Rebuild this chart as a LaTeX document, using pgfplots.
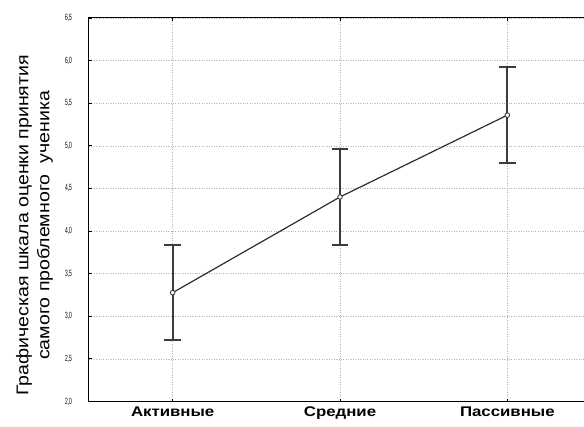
\documentclass[border=0pt]{standalone}
\usepackage{pgfplots}
\pgfplotsset{compat=1.18}
\usepackage{fontspec}
\setmainfont{Liberation Sans}
\newfontfamily\narrowfont{Liberation Sans}[FakeStretch=0.55]
\newfontfamily\wideboldfont{Liberation Sans}[FakeStretch=1.2, UprightFont=*-Bold]
\newfontfamily\labelfont{Liberation Sans}[FakeStretch=1.15]

\definecolor{linegray}{HTML}{2E2E2E}
\definecolor{bargray}{HTML}{3C3C3C}
\definecolor{gridgray}{HTML}{B4B4B4}

\begin{document}
\begin{tikzpicture}
% page frame: the plot runs past the right edge
\path[use as bounding box] (-89pt,-25pt) rectangle (495pt,401.5pt);
\begin{axis}[
  at={(0,0)}, anchor=south west,
  scale only axis,
  width=502pt, height=383.5pt,
  xmin=-0.5, xmax=2.5,
  ymin=2.0, ymax=6.5,
  xtick={0,1,2},
  xticklabels={Активные, Средние, Пассивные},
  ytick={2.0,2.5,...,6.5},
  grid=major,
  major grid style={color=gridgray, dotted, line width=0.6pt},
  tick align=inside,
  major tick length=3pt,
  tick style={color=black, line width=0.8pt},
  axis line style={line width=1pt, color=black},
  /pgf/number format/assume math mode=true,
  /pgf/number format/.cd, fixed, fixed zerofill, precision=1, use comma,
  /pgfplots/.cd,
  yticklabel style={font=\narrowfont\fontsize{9}{9}\selectfont, anchor=east, xshift=-13.5pt},
  xticklabel style={font=\wideboldfont\fontsize{14}{14}\selectfont, anchor=base, yshift=-15pt},
  ylabel={Графическая шкала оценки принятия\\самого проблемного\ \ ученика},
  ylabel style={at={(axis description cs:-0.1086,0.459)}, anchor=center,
                align=center, font=\labelfont\fontsize{17}{21}\selectfont},
  error bars/error bar style={color=bargray, line width=1.8pt},
]
\addplot[
  color=linegray, line width=1.2pt,
  mark=*, mark size=2.3pt,
  mark options={fill=white, draw=linegray, line width=0.8pt},
  error bars/.cd,
    y dir=both, y explicit,
    error mark options={rotate=90, mark size=8.3pt, color=bargray, line width=1.8pt},
] coordinates {
  (0, 3.277) +- (0, 0.556)
  (1, 4.400) +- (0, 0.564)
  (2, 5.360) +- (0, 0.565)
};
\end{axis}
\end{tikzpicture}
\end{document}
